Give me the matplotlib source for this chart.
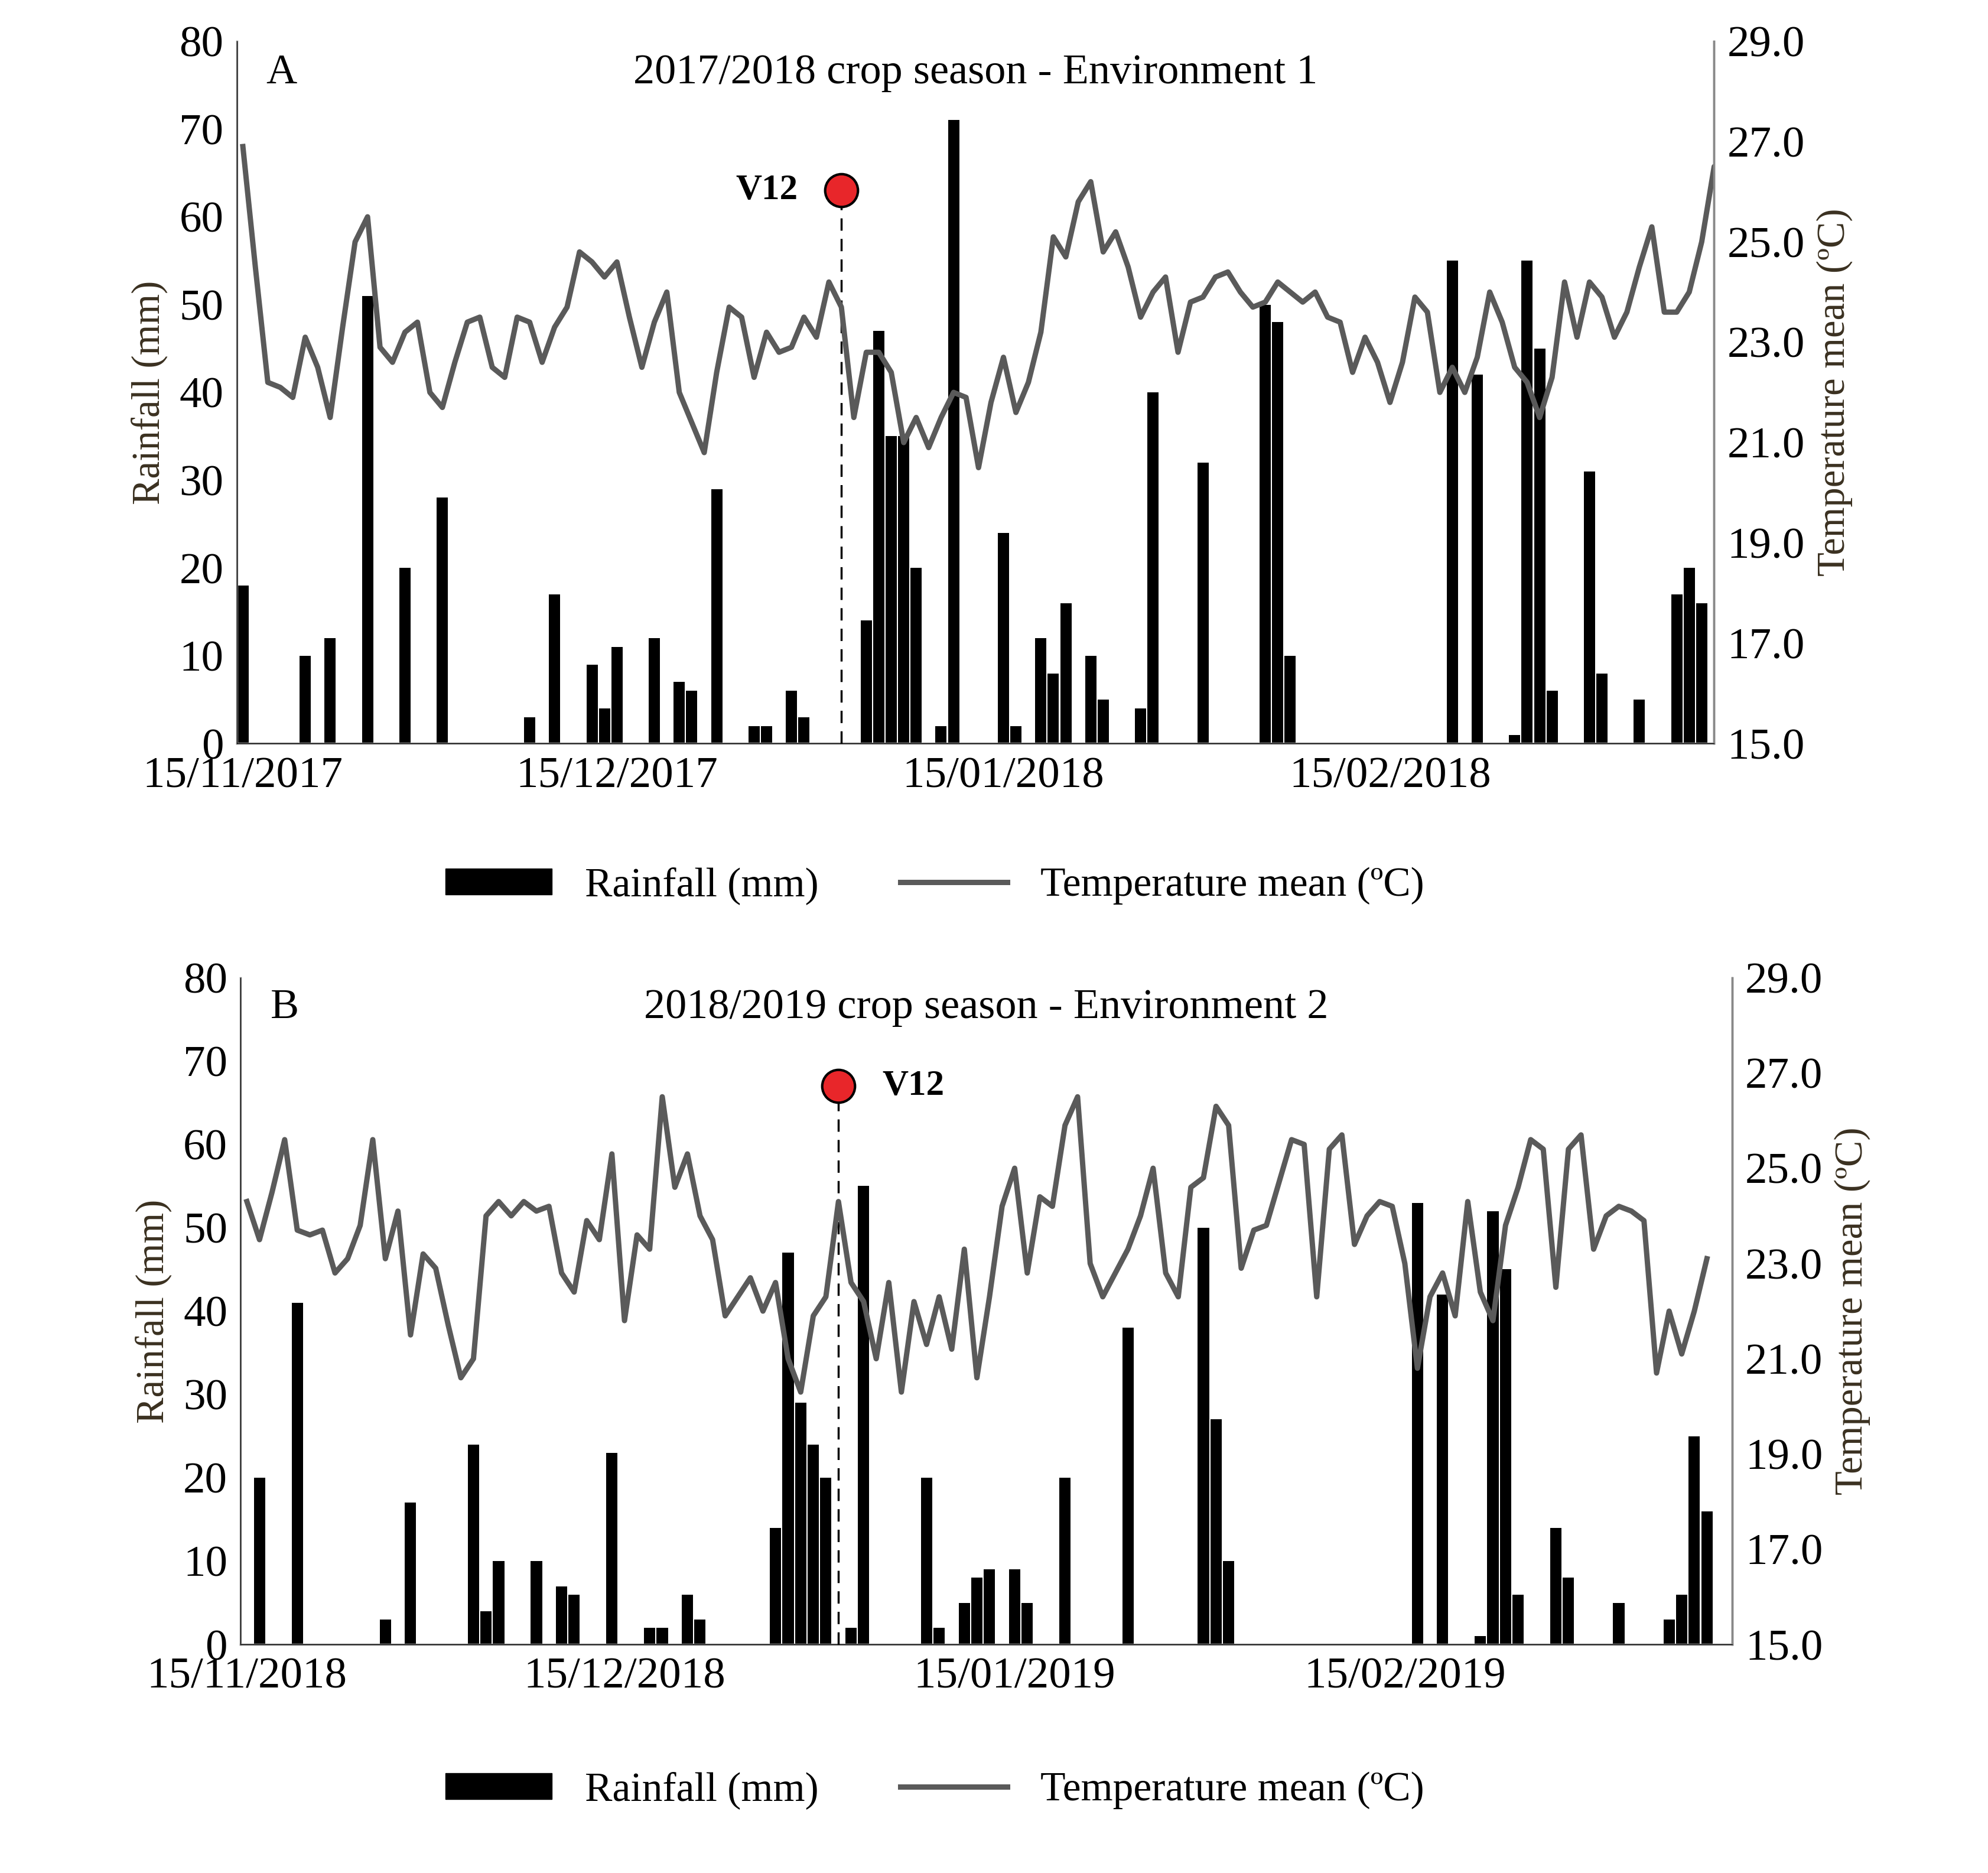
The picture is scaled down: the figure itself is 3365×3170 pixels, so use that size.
import numpy as np
import pandas as pd
import matplotlib
matplotlib.use("Agg")
import matplotlib.pyplot as plt
from matplotlib.lines import Line2D
from matplotlib.patches import Patch

plt.rcParams['font.family'] = ['Liberation Serif', 'DejaVu Serif']

# ---------------- Data ----------------
start_a = "2017-11-15"
rain_days_a = [0,5,7,10,13,16,23,25,28,29,30,33,35,36,38,41,42,44,45,50,51,52,53,54,56,57,61,62,64,65,66,68,69,72,73,77,82,83,84,97,99,102,103,104,105,108,109,112,115,116,117]
rain_a = [18,10,12,51,20,28,3,17,9,4,11,12,7,6,29,2,2,6,3,14,47,35,35,20,2,71,24,2,12,8,16,10,5,4,40,32,50,48,10,55,42,1,55,45,6,31,8,5,17,20,16]
temp_a = [26.9,24.5,22.2,22.1,21.9,23.1,22.5,21.5,23.3,25.0,25.5,22.9,22.6,23.2,23.4,22.0,21.7,22.6,23.4,23.5,
          22.5,22.3,23.5,23.4,22.6,23.3,23.7,24.8,24.6,24.3,24.6,23.5,22.5,23.4,24.0,22.0,21.4,20.8,22.4,23.7,
          23.5,22.3,23.2,22.8,22.9,23.5,23.1,24.2,23.7,21.5,22.8,22.8,22.4,21.0,21.5,20.9,21.5,22.0,21.9,20.5,
          21.8,22.7,21.6,22.2,23.2,25.1,24.7,25.8,26.2,24.8,25.2,24.5,23.5,24.0,24.3,22.8,23.8,23.9,24.3,24.4,
          24.0,23.7,23.8,24.2,24.0,23.8,24.0,23.5,23.4,22.4,23.1,22.6,21.8,22.6,23.9,23.6,22.0,22.5,22.0,22.7,
          24.0,23.4,22.5,22.2,21.5,22.3,24.2,23.1,24.2,23.9,23.1,23.6,24.5,25.3,23.6,23.6,24.0,25.0,26.5,26.5]

start_b = "2018-11-15"
rain_days_b = [1,4,11,13,18,19,20,23,25,26,29,32,33,35,36,42,43,44,45,46,48,49,54,55,57,58,59,61,62,65,70,76,77,78,93,95,98,99,100,101,104,105,109,113,114,115,116]
rain_b = [20,41,3,17,24,4,10,10,7,6,23,2,2,6,3,14,47,29,24,20,2,55,20,2,5,8,9,9,5,20,38,50,27,10,53,42,1,52,45,6,14,8,5,3,6,25,16]
temp_b = [24.3,23.5,24.5,25.6,23.7,23.6,23.7,22.8,23.1,23.8,25.6,23.1,24.1,21.5,23.2,22.9,21.7,20.6,21.0,24.0,
          24.3,24.0,24.3,24.1,24.2,22.8,22.4,23.9,23.5,25.3,21.8,23.6,23.3,26.5,24.6,25.3,24.0,23.5,21.9,22.3,
          22.7,22.0,22.6,21.0,20.3,21.9,22.3,24.3,22.6,22.2,21.0,22.6,20.3,22.2,21.3,22.3,21.2,23.3,20.6,22.3,
          24.2,25.0,22.8,24.4,24.2,25.9,26.5,23.0,22.3,22.8,23.3,24.0,25.0,22.8,22.3,24.6,24.8,26.3,25.9,22.9,
          23.7,23.8,24.7,25.6,25.5,22.3,25.4,25.7,23.4,24.0,24.3,24.2,23.0,20.8,22.3,22.8,21.9,24.3,22.4,21.8,
          23.8,24.6,25.6,25.4,22.5,25.4,25.7,23.3,24.0,24.2,24.1,23.9,20.7,22.0,21.1,22.0,23.1]

tick_labels_a = ["15/11/2017", "15/12/2017", "15/01/2018", "15/02/2018"]
tick_labels_b = ["15/11/2018", "15/12/2018", "15/01/2019", "15/02/2019"]
v12_day_a, v12_day_b = 48, 47
titles = ["2017/2018 crop season - Environment 1", "2018/2019 crop season - Environment 2"]

fig = plt.figure(figsize=(33.66, 31.70), dpi=100)
LINE = "#5a5a5a"
FS = 54

def panel(rect, start, rdays, rain, temp, ticklabels, v12, letter, title, v12_left, leg_y, ndays):
    ax = fig.add_axes(rect)
    s = pd.Timestamp(start)
    rd = s + pd.to_timedelta(rdays, unit="D")
    ax.bar(rd, rain, width=0.9, color="black", align="center")
    ax.set_ylim(0, 80)
    ax.set_yticks(range(0, 81, 10))
    end = s + pd.Timedelta(days=ndays)
    ax.set_xlim(s - pd.Timedelta(days=0.5), end)
    tks = pd.to_datetime([pd.to_datetime(t, dayfirst=True) for t in ticklabels])
    ax.set_xticks(tks)
    ax.set_xticklabels(ticklabels)
    ax.set_ylabel("Rainfall (mm)", fontsize=48, color="#3a3020", labelpad=14)
    ax.tick_params(labelsize=FS, length=0, pad=16)
    ax.spines["top"].set_visible(False)
    for sp in ["left", "bottom", "right"]:
        ax.spines[sp].set_color("#888888"); ax.spines[sp].set_linewidth(2.5)
    ax2 = ax.twinx()
    td = s + pd.to_timedelta(np.arange(len(temp)), unit="D")
    ax2.plot(td, temp, color=LINE, lw=6.5)
    ax2.set_ylim(15, 29)
    ax2.set_yticks(np.arange(15, 29.1, 2))
    ax2.set_yticklabels([f"{v:.1f}" for v in np.arange(15, 29.1, 2)])
    ax2.tick_params(labelsize=FS, length=0, pad=16)
    ax2.set_ylabel("Temperature mean (ºC)", fontsize=48, color="#3a3020", labelpad=14)
    ax2.spines["top"].set_visible(False)
    ax2.spines["right"].set_color("#888888"); ax2.spines["right"].set_linewidth(2.5)
    vd = s + pd.Timedelta(days=v12)
    ymark = 63 if v12_left else 67
    ax.plot([vd, vd], [0, ymark], ls=(0, (6, 4)), color="black", lw=2.5, zorder=5)
    ax2.plot([vd], [15 + ymark * 14 / 80], "o", ms=40, mfc="#e8262a", mec="black", mew=3, zorder=6)
    if v12_left:
        ax.text(vd - pd.Timedelta(days=3.5), ymark, "V12", fontsize=44, fontweight="bold", ha="right", va="center", zorder=7)
    else:
        ax.text(vd + pd.Timedelta(days=3.5), ymark, "V12", fontsize=44, fontweight="bold", ha="left", va="center", zorder=7)
    ax.text(0.02, 0.955, letter, transform=ax.transAxes, fontsize=52, va="center")
    ax.text(0.5, 0.955, title, transform=ax.transAxes, fontsize=52, va="center", ha="center")
    handles = [Patch(color="black"), Line2D([], [], color=LINE, lw=6.5)]
    fig.legend(handles, ["Rainfall (mm)", "Temperature mean (ºC)"], loc="center",
               bbox_to_anchor=(0.47, leg_y), ncol=2, frameon=False, fontsize=50,
               handlelength=2.6, handleheight=0.6, columnspacing=2.0)
    return ax

panel([0.119, 0.603, 0.743, 0.375], start_a, rain_days_a, rain_a, temp_a, tick_labels_a,
      v12_day_a, "A", titles[0], True, 0.527, 118)
panel([0.121, 0.122, 0.750, 0.356], start_b, rain_days_b, rain_b, temp_b, tick_labels_b,
      v12_day_b, "B", titles[1], False, 0.044, 118)

fig.savefig("out.png", dpi=100)
